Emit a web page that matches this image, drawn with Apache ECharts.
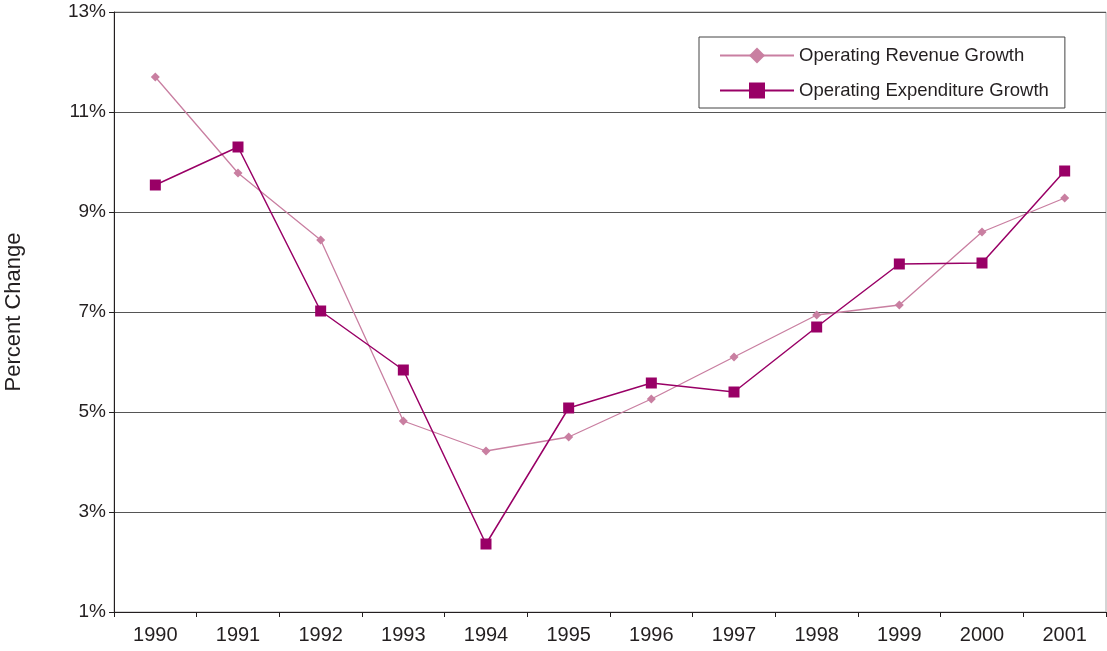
<!DOCTYPE html>
<html>
<head>
<meta charset="utf-8">
<script src="https://cdn.jsdelivr.net/npm/echarts@6/dist/echarts.min.js"></script>
<style>
  html, body { margin: 0; padding: 0; background: #fff; }
  #chart { width: 1107px; height: 651px; }
</style>
</head>
<body>
<div id="chart"></div>
<script>
// years on the x axis
var years = ['1990', '1991', '1992', '1993', '1994', '1995', '1996', '1997', '1998', '1999', '2000', '2001'];
// percent change
var revenueGrowth = [11.7, 9.78, 8.44, 4.82, 4.22, 4.5, 5.26, 6.1, 6.94, 7.14, 8.6, 9.28];
var expenditureGrowth = [9.54, 10.3, 7.02, 5.84, 2.36, 5.08, 5.58, 5.4, 6.7, 7.96, 7.98, 9.82];

(function () {
    var chart = echarts.init(document.getElementById('chart'));

    var option = {
        animation: false,
        textStyle: { fontFamily: 'Liberation Sans, Arial, sans-serif' },
        grid: {
            left: 114,
            right: 1,
            top: 12,
            bottom: 39,
            containLabel: false,
            outerBoundsMode: 'none',
            show: true,
            borderColor: '#aaa',
            borderWidth: 1
        },
        legend: {
            orient: 'vertical',
            left: 699,
            top: 37,
            padding: [9, 16, 8, 20],
            itemGap: 16,
            itemWidth: 74,
            itemHeight: 20,
            borderColor: '#444',
            borderWidth: 1,
            backgroundColor: '#fff',
            textStyle: { fontSize: 18.5, color: '#231f20' },
            data: ['Operating Revenue Growth', 'Operating Expenditure Growth']
        },
        xAxis: {
            type: 'category',
            data: years,
            boundaryGap: true,
            axisLine: { lineStyle: { color: '#231f20', width: 1 } },
            axisTick: { show: true, length: 5, lineStyle: { color: '#231f20' } },
            axisLabel: { fontSize: 20, color: '#231f20', margin: 13 }
        },
        yAxis: {
            type: 'value',
            min: 1,
            max: 13,
            interval: 2,
            name: 'Percent Change',
            nameLocation: 'middle',
            nameGap: 89,
            nameRotate: 90,
            nameTextStyle: { fontSize: 22, color: '#231f20' },
            axisLine: { show: true, lineStyle: { color: '#231f20', width: 1 } },
            axisTick: { show: true, length: 5, lineStyle: { color: '#231f20' } },
            axisLabel: { fontSize: 19, color: '#231f20', margin: 8, formatter: '{value}%' },
            splitLine: { show: true, lineStyle: { color: '#555', width: 1 } }
        },
        series: [
            {
                name: 'Operating Revenue Growth',
                type: 'line',
                data: revenueGrowth,
                symbol: 'diamond',
                symbolSize: 9,
                itemStyle: { color: '#c97fa1' },
                lineStyle: { color: '#c97fa1', width: 1.3 },
                z: 3
            },
            {
                name: 'Operating Expenditure Growth',
                type: 'line',
                data: expenditureGrowth,
                symbol: 'rect',
                symbolSize: 11,
                itemStyle: { color: '#990066' },
                lineStyle: { color: '#990066', width: 1.5 },
                z: 4
            }
        ]
    };

    chart.setOption(option);
})();
</script>
</body>
</html>
